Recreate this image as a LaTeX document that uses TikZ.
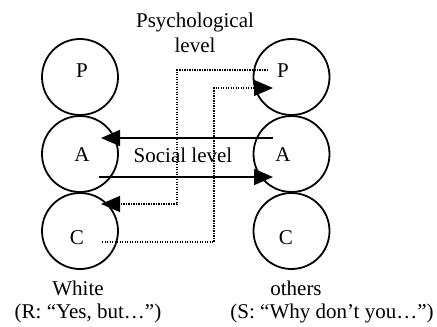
\documentclass[tikz,border=0pt]{standalone}
\usepackage{fontspec}
\setmainfont{Liberation Serif}
\usetikzlibrary{arrows.meta}
\begin{document}
\begin{tikzpicture}[x=1pt,y=-1pt,
  ego/.style={circle,draw,line width=1.8pt,minimum size=76pt,inner sep=0pt},
  txt/.style={font=\fontsize{21}{25}\selectfont,inner sep=0pt},
  solidarrow/.style={line width=1.8pt,-{Triangle[length=19pt,width=16pt]}},
  dotarrow/.style={line width=1.2pt,dash pattern=on 1.2pt off 1.3pt,-{Triangle[length=19pt,width=16pt]}}]
\useasboundingbox (0,0) rectangle (437,327);
% circles
\node[ego] (lP) at (80,77) {};
\node[ego] (lA) at (80,154) {};
\node[ego] (lC) at (80,231) {};
\node[ego] (rP) at (291.5,77) {};
\node[ego] (rA) at (291.5,154) {};
\node[ego] (rC) at (291.5,231) {};
% letters
\node[txt] (tlP) at (82,71) {P};
\node[txt] (tlA) at (82,155) {A};
\node[txt] (tlC) at (77,238) {C};
\node[txt] (trP) at (283,71) {P};
\node[txt] (trA) at (283,155) {A};
\node[txt] (trC) at (286,238) {C};
% labels
\node[txt,align=center] (psy) at (195,33) {Psychological\\level};
\node[txt] (soc) at (183,155) {Social level};
\node[txt] (w1) at (78,288) {White};
\node[txt] (w2) at (88,313) {(R: “Yes, but…”)};
\node[txt] (o1) at (296,288) {others};
\node[txt] (o2) at (332,313) {(S: “Why don’t you…”)};
% coordinates
\coordinate (s1) at (273,138);
\coordinate (e1) at (101,138);
\coordinate (s2) at (99,177);
\coordinate (e2) at (273,177);
\coordinate (d1s) at (268,70);
\coordinate (d1e) at (101,204);
\coordinate (d2s) at (102,242);
\coordinate (d2e) at (273,88);
% social arrows
\draw[solidarrow] (s1) -- (e1);
\draw[solidarrow] (s2) -- (e2);
% psychological arrows
\draw[dotarrow] (d1s) -- (177,70) -- (177,204) -- (d1e);
\draw[dotarrow] (d2s) -- (214,242) -- (214,88) -- (d2e);
\end{tikzpicture}
\end{document}
